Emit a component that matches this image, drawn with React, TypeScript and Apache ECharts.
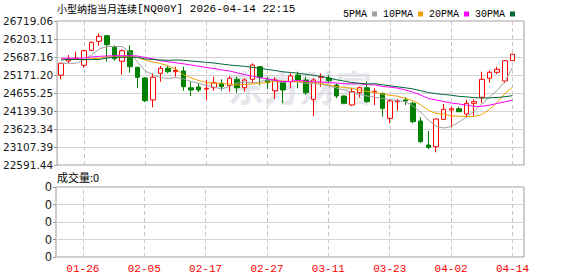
import React, { useEffect, useRef } from 'react';
import * as echarts from 'echarts';

const titleName = '小型纳指当月连续';
const titleCode = '[NQ00Y] 2026-04-14 22:15';
const volumeTitle = '成交量:0';
const watermark = '东方财富';

const dates = [
  '01-21','01-22','01-23','01-26','01-27','01-28','01-29','01-30','02-02','02-03',
  '02-04','02-05','02-06','02-09','02-10','02-11','02-12','02-13','02-16','02-17',
  '02-18','02-19','02-20','02-23','02-24','02-25','02-26','02-27','03-02','03-03',
  '03-04','03-05','03-06','03-09','03-10','03-11','03-12','03-13','03-16','03-17',
  '03-18','03-19','03-20','03-23','03-24','03-25','03-26','03-27','03-30','03-31',
  '04-01','04-02','04-03','04-06','04-07','04-08','04-09','04-10','04-13','04-14',
];
const tickDates = ['01-26','02-05','02-17','02-27','03-11','03-23','04-02','04-14'];

const opens = [
  25163,25573,25621,25449,25879,26137,26298,25965,25564,25868,
  25392,25085,24457,25220,25363,25266,25286,24807,24827,24770,
  24807,24933,24865,25048,24807,25048,25409,25028,24721,24979,
  24979,25171,25028,24475,25105,25077,24885,24569,24311,24664,
  24807,24684,24647,23930,24406,24455,24360,23853,23165,23116,
  23901,24168,24205,24053,24360,24532,25077,25249,25000,25581,
];
const closes = [
  25507,25630,25650,25868,26108,26280,26040,25638,25868,25409,
  25105,24435,25105,25363,25266,25300,24836,24741,24741,24790,
  24950,24836,25077,24807,25028,25458,25105,24951,25028,24741,
  25143,25028,24664,25028,25122,25008,24569,24360,24693,24807,
  24406,24704,24217,24426,24435,24426,23833,23259,23099,23910,
  24188,24205,24119,24360,24406,25048,25249,25335,25581,25765,
];
const lows = [
  25048,25515,25602,25380,25859,26011,25552,25581,25180,25237,
  24797,24397,24245,24979,25220,25122,24721,24569,24684,24457,
  24721,24721,24692,24664,24692,24933,24876,24761,24483,24360,
  24790,24790,24598,23996,24836,24933,24503,24355,24283,24532,
  24377,24311,23976,23787,24148,24311,23787,23231,23042,22955,
  23890,23672,24115,23959,23976,24360,24951,25200,24933,25570,
];
const highs = [
  25520,25744,25839,25888,26131,26366,26318,26022,25908,26022,
  25400,25110,25220,25429,25429,25409,25409,24979,24933,25028,
  25122,25048,25142,25122,25077,25506,25429,25122,25105,24990,
  25220,25266,25122,25077,25220,25171,24933,24575,24790,24836,
  24979,24790,24660,24457,24483,24532,24406,23959,23566,23920,
  24340,24263,24263,24457,24475,25266,25295,25409,25601,25780,
];

const ma5 = [
  25507,25507,25507,25601,25744,25916,25988,25988,25988,25830,
  25544,25286,25183,25100,25071,25097,25060,24985,24933,24870,
  24827,24770,24842,24942,24971,24942,24985,25028,24999,24962,
  24985,24971,24933,24922,24913,24856,24799,24741,24670,24612,
  24569,24532,24498,24469,24440,24406,24283,24111,23881,23709,
  23652,23695,23824,23967,24139,24340,24541,24727,24985,25380,
];
const ma10 = [
  25630,25621,25621,25621,25638,25650,25687,25696,25696,25696,
  25673,25601,25544,25501,25429,25343,25185,25085,25013,24956,
  24933,24933,24913,24885,24899,24913,24933,24962,24991,24999,
  24985,24979,24979,24956,24933,24885,24842,24813,24790,24741,
  24704,24675,24627,24589,24563,24504,24431,24321,24161,24072,
  24050,24000,23990,23983,23980,24043,24184,24392,24640,24826,
];
const ma20 = [
  25650,25650,25650,25659,25687,25707,25716,25724,25724,25724,
  25716,25673,25638,25581,25553,25521,25492,25458,25421,25384,
  25356,25316,25288,25235,25181,25140,25093,25059,25017,24983,
  24985,25015,24993,24976,24969,24954,24941,24922,24919,24920,
  24893,24886,24843,24824,24795,24743,24679,24595,24498,24457,
  24409,24368,24341,24307,24272,24274,24308,24356,24401,24449,
];
const ma30 = [
  25601,25615,25615,25615,25615,25615,25659,25679,25679,25679,
  25679,25630,25615,25601,25593,25601,25593,25573,25553,25535,
  25515,25486,25458,25438,25421,25392,25363,25329,25300,25262,
  25243,25223,25190,25162,25129,25087,25038,24995,24956,24936,
  24913,24922,24892,24861,24833,24804,24771,24721,24667,24637,
  24612,24591,24559,24544,24523,24510,24514,24527,24546,24580,
];
const volumes = [
  0,0,0,0,0,0,0,0,0,0, 0,0,0,0,0,0,0,0,0,0,
  0,0,0,0,0,0,0,0,0,0, 0,0,0,0,0,0,0,0,0,0,
  0,0,0,0,0,0,0,0,0,0, 0,0,0,0,0,0,0,0,0,0,
];

const priceMin = 22591.44;
const priceMax = 26719.06;
const yTickLabels = ['22591.44','23107.39','23623.34','24139.30','24655.25','25171.20','25687.16','26203.11','26719.06'];
const volTickLabels = ['0','0','0','0','0'];
const maNames = ['5PMA','10PMA','20PMA','30PMA'];
const maColors = ['#a0a0a0','#f0a000','#ff00ff','#006633'];

const UP = '#ff0000';
const DOWN = '#008000';

export default function App() {
  const ref = useRef<HTMLDivElement>(null);
  useEffect(() => {
    if (!ref.current) return;
    const chart = echarts.init(ref.current, undefined, { renderer: 'svg' });
    const range = +(priceMax - priceMin).toFixed(6);
    const step = range / 8;
    const rel = (v: number) => v - priceMin;
    const cats = [...dates, ''];
    const isTick = (_: number, v: string) => tickDates.includes(v);
    const candle = opens.map((o, i) => [rel(o), rel(closes[i]), rel(lows[i]), rel(highs[i])]);
    const maSeries = [ma5, ma10, ma20, ma30].map((arr, k) => ({
      name: maNames[k],
      type: 'line',
      xAxisIndex: 0,
      yAxisIndex: 0,
      data: arr.map(rel),
      showSymbol: false,
      symbol: 'none',
      silent: true,
      z: 3,
      lineStyle: { width: 1, color: maColors[k] },
      itemStyle: { color: maColors[k] },
    }));
    const vLine = {
      silent: true,
      symbol: ['none', 'none'],
      label: { show: false },
      z: 1,
      lineStyle: { color: '#c8c8c8', type: [4, 3], width: 1 },
      emphasis: { disabled: true },
      data: tickDates.map((d) => ({ xAxis: d })),
    };
    const labelFont = { fontFamily: 'DejaVu Sans', fontSize: 10.5, color: '#1a1a1a' };

    chart.setOption({
      animation: false,
      backgroundColor: '#ffffff',
      legend: {
        left: 338,
        top: 4,
        itemWidth: 5,
        itemHeight: 5,
        itemGap: 6,
        align: 'right',
        icon: 'rect',
        selectedMode: false,
        data: maNames,
        textStyle: { fontFamily: 'Liberation Mono', fontSize: 10, color: '#000' },
      },
      grid: [
        { left: 56, top: 21, width: 468, height: 144, show: true, borderColor: '#999', borderWidth: 1, backgroundColor: 'transparent' },
        { left: 56, top: 187, width: 468, height: 70, show: true, borderColor: '#999', borderWidth: 1, backgroundColor: 'transparent' },
      ],
      xAxis: [
        {
          type: 'category', gridIndex: 0, data: cats, boundaryGap: true,
          axisLine: { show: false }, axisTick: { show: false }, axisLabel: { show: false }, splitLine: { show: false },
        },
        {
          type: 'category', gridIndex: 1, data: cats, boundaryGap: true,
          axisLine: { show: false }, axisTick: { show: false }, splitLine: { show: false },
          axisLabel: { show: true, interval: isTick, color: '#ff0000', fontFamily: 'Liberation Mono', fontSize: 11, margin: 6 },
        },
      ],
      yAxis: [
        {
          type: 'value', gridIndex: 0, min: 0, max: range, interval: step,
          axisLine: { show: false },
          axisTick: { show: true, length: 3, lineStyle: { color: '#999' } },
          axisLabel: { ...labelFont, margin: 4, formatter: (v: number) => yTickLabels[Math.round(v / step)] ?? '' },
          splitLine: { show: true, lineStyle: { color: '#d4d4d4', width: 1 } },
        },
        {
          type: 'value', gridIndex: 1, min: 0, max: 4, interval: 1,
          axisLine: { show: false },
          axisTick: { show: true, length: 3, lineStyle: { color: '#999' } },
          axisLabel: { ...labelFont, fontSize: 11.5, margin: 4, formatter: (v: number) => volTickLabels[Math.round(v)] ?? '' },
          splitLine: { show: true, lineStyle: { color: '#d4d4d4', width: 1 } },
        },
      ],
      graphic: [
        {
          type: 'text', left: 57, top: 3, z: 10,
          style: {
            text: `{a|${titleName}}{b|${titleCode}}`,
            rich: {
              a: { fontFamily: 'Noto Sans CJK SC', fontSize: 10, fill: '#000' },
              b: { fontFamily: 'Liberation Mono', fontSize: 11, fill: '#000' },
            },
          },
        },
        {
          type: 'text', left: 57, top: 171, z: 10,
          style: { text: volumeTitle, fontFamily: 'Noto Sans CJK SC', fontSize: 11, fill: '#000' },
        },
        {
          type: 'text', left: 228, top: 68, z: 0, silent: true,
          style: { text: watermark, fontFamily: 'Noto Sans CJK SC', fontWeight: 'bold', fontSize: 36, fill: '#e6e6ec' },
        },
      ],
      series: [
        {
          name: 'K',
          type: 'candlestick',
          xAxisIndex: 0,
          yAxisIndex: 0,
          barWidth: 5,
          z: 2,
          data: candle,
          itemStyle: { color: '#ffffff', color0: DOWN, borderColor: UP, borderColor0: DOWN, borderWidth: 1 },
          markLine: vLine,
        },
        ...maSeries,
        {
          name: 'VOL',
          type: 'bar',
          xAxisIndex: 1,
          yAxisIndex: 1,
          data: volumes,
          markLine: vLine,
        },
      ],
    });
    return () => chart.dispose();
  }, []);
  return <div ref={ref} style={{ position: 'fixed', left: 0, top: 0, width: 578, height: 276, background: '#fff' }} />;
}
